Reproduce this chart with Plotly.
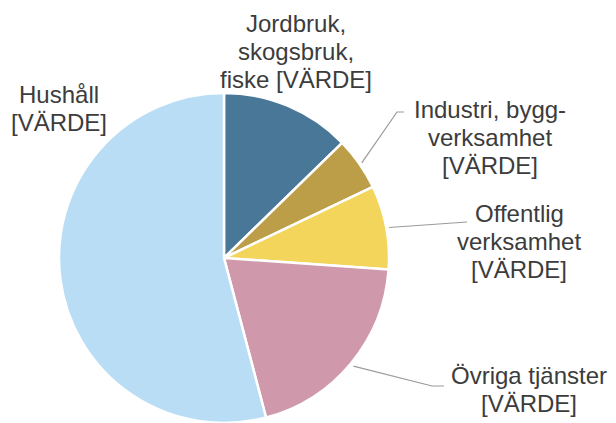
import math
import plotly.graph_objects as go

# ---- data ----
categories = ["Jordbruk, skogsbruk, fiske", "Industri, byggverksamhet",
              "Offentlig verksamhet", "Övriga tjänster", "Hushåll"]
shares = [12.7, 5.2, 8.2, 19.8, 54.1]
label_lines = [["Jordbruk,", "skogsbruk,", "fiske [VÄRDE]"],
               ["Industri, bygg-", "verksamhet", "[VÄRDE]"],
               ["Offentlig", "verksamhet", "[VÄRDE]"],
               ["Övriga tjänster", "[VÄRDE]"],
               ["Hushåll", "[VÄRDE]"]]

# ---- style / layout ----
colors = ["#487798", "#BD9E48", "#F4D55C", "#CF99AB", "#B9DDF5"]
W, H = 616, 423
cx, top, r = 224, 93, 166           # pie geometry in pixels
cy = top + r
FS = 24
LINE = 28
# label centre x and first baseline y (px), leader elbow points (px) or None
label_pos = [(296, 32), (490, 118), (519, 222), (529, 384), (59, 103)]
leader_pts = [None, [(397, 112), (404, 112)], [(467, 222)], [(432, 386), (444, 386)], None]


def px(x, y):
    return x / W, 1 - y / H


fig = go.Figure(go.Pie(
    labels=categories, values=shares, sort=False, direction="clockwise",
    rotation=0, textinfo="none", hoverinfo="label+percent",
    marker=dict(colors=colors, line=dict(color="white", width=2.5)),
    domain=dict(x=[(cx - r) / W, (cx + r) / W], y=[0, 1 - top / H]),
    showlegend=False,
))

annotations = []
for lines, (lx, by) in zip(label_lines, label_pos):
    for j, t in enumerate(lines):
        xx, yy = px(lx, by + j * LINE - 0.35 * FS)
        annotations.append(dict(text=t, x=xx, y=yy, xref="paper", yref="paper",
                                xanchor="center", yanchor="middle", showarrow=False,
                                font=dict(family="Liberation Sans, Arial", size=FS,
                                          color="#3C3C3C")))

shapes = []
total = sum(shares)
cum = 0
for v, pts in zip(shares, leader_pts):
    mid = (cum + v / 2) / total * 2 * math.pi
    cum += v
    if pts is None:
        continue
    sx = cx + (r + 2) * math.sin(mid)
    sy = cy - (r + 2) * math.cos(mid)
    path_pts = [(sx, sy)] + pts
    d = ""
    for k, (a, b) in enumerate(path_pts):
        xx, yy = px(a, b)
        d += ("M" if k == 0 else " L") + f"{xx:.5f},{yy:.5f}"
    shapes.append(dict(type="path", path=d, xref="paper", yref="paper",
                       line=dict(color="#9A9A9A", width=1.2)))

fig.update_layout(width=W, height=H, margin=dict(l=0, r=0, t=0, b=0),
                  paper_bgcolor="white", plot_bgcolor="white",
                  annotations=annotations, shapes=shapes)
fig.write_html("out.html", config={"displayModeBar": False},
               post_script="document.body.style.margin='0';"
                           "document.body.style.overflow='hidden';")
